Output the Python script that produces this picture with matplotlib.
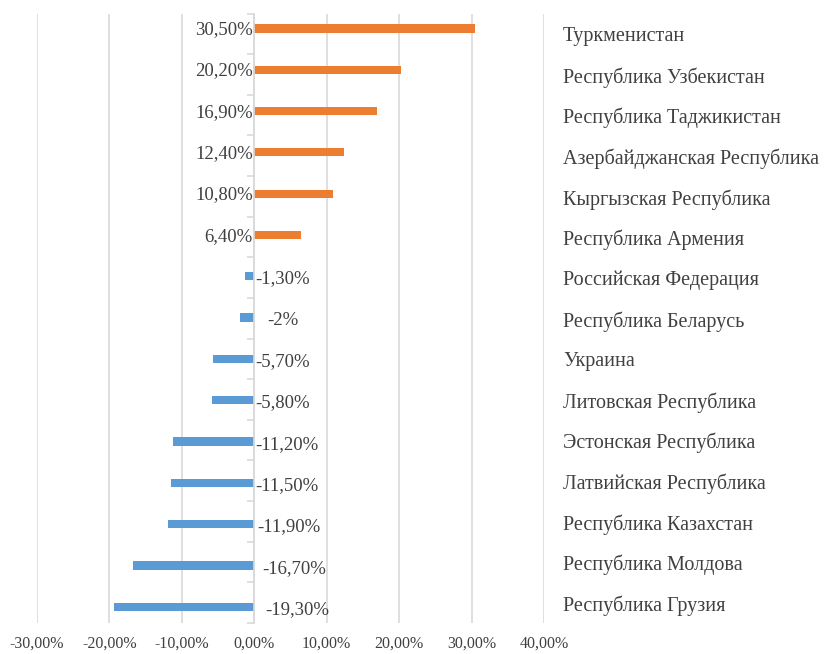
import numpy as np
import matplotlib.pyplot as plt
import matplotlib.transforms as mtransforms

# ── Data ──────────────────────────────────────────────────────────────────────
COUNTRIES = [
    "Туркменистан",
    "Республика Узбекистан",
    "Республика Таджикистан",
    "Азербайджанская Республика",
    "Кыргызская Республика",
    "Республика Армения",
    "Российская Федерация",
    "Республика Беларусь",
    "Украина",
    "Литовская Республика",
    "Эстонская Республика",
    "Латвийская Республика",
    "Республика Казахстан",
    "Республика Молдова",
    "Республика Грузия",
]
VALUES = [30.5, 20.2, 16.9, 12.4, 10.8, 6.4, -1.3, -2.0, -5.7, -5.8,
          -11.2, -11.5, -11.9, -16.7, -19.3]
VALUE_LABELS = ["30,50%", "20,20%", "16,90%", "12,40%", "10,80%", "6,40%",
                "-1,30%", "-2%", "-5,70%", "-5,80%", "-11,20%", "-11,50%",
                "-11,90%", "-16,70%", "-19,30%"]
X_TICKS = [-30, -20, -10, 0, 10, 20, 30, 40]
X_TICK_LABELS = ["-30,00%", "-20,00%", "-10,00%", "0,00%", "10,00%",
                 "20,00%", "30,00%", "40,00%"]

# extra horizontal gap (points) for the value labels of negative bars
NEG_PAD = [0, 0, 0, 0, 0, 0, 0, 8, 0, 0, 0, 0, 1, 5, 7]

ORANGE = "#ED7D31"
BLUE = "#5B9BD5"
GRID = "#D9D9D9"
TEXT = "#404040"
SERIF = ["Liberation Serif", "DejaVu Serif"]

fig = plt.figure(figsize=(8.27, 6.54), dpi=100)
ax = fig.add_axes([37 / 827, 1 - 623 / 654, 507 / 827, 609.5 / 654])

n = len(COUNTRIES)
ypos = np.arange(n)[::-1]
colors = [ORANGE if v > 0 else BLUE for v in VALUES]
ax.barh(ypos, VALUES, height=0.2, color=colors, zorder=3)

ax.set_xlim(-30, 40)
y_lo, y_hi = -0.39, n - 1 + 0.36
ax.set_ylim(y_lo, y_hi)

# vertical gridlines
ax.set_xticks(X_TICKS)
ax.set_xticklabels(X_TICK_LABELS, fontfamily=SERIF, fontsize=11.5, color=TEXT)
ax.tick_params(axis="x", length=0, pad=9)
ax.grid(axis="x", color=GRID, linewidth=1.2, zorder=0)

# category axis at x = 0 with separator ticks
for side in ["top", "bottom", "right"]:
    ax.spines[side].set_visible(False)
ax.spines["left"].set_position(("data", 0))
ax.spines["left"].set_color(GRID)
ax.spines["left"].set_linewidth(1.2)
ax.spines["left"].set_zorder(4)
bounds = np.linspace(y_hi, y_lo, n + 1)
ax.set_yticks(bounds)
ax.set_yticklabels([])
ax.tick_params(axis="y", length=5, color=GRID, width=1.2, direction="out")

# value labels
for y, v, lab, pad in zip(ypos, VALUES, VALUE_LABELS, NEG_PAD):
    if v > 0:
        ax.annotate(lab, (0, y), xytext=(-1, -1), textcoords="offset points",
                    ha="right", va="center", fontfamily=SERIF, fontsize=13.5,
                    color=TEXT, zorder=5)
    else:
        ax.annotate(lab, (0, y), xytext=(1 + pad, -2), textcoords="offset points",
                    ha="left", va="center", fontfamily=SERIF, fontsize=13.5,
                    color=TEXT, zorder=5)

# country names on the right, centred in each category band
centers = (bounds[:-1] + bounds[1:]) / 2
trans = mtransforms.blended_transform_factory(fig.transFigure, ax.transData)
trans = trans + mtransforms.ScaledTranslation(0, -3 / 100, fig.dpi_scale_trans)
for yc, name in zip(centers, COUNTRIES):
    ax.text(563 / 827, yc, name, transform=trans, ha="left", va="center",
            fontfamily=SERIF, fontsize=14.5, color=TEXT)

fig.savefig("out.png", dpi=100)
